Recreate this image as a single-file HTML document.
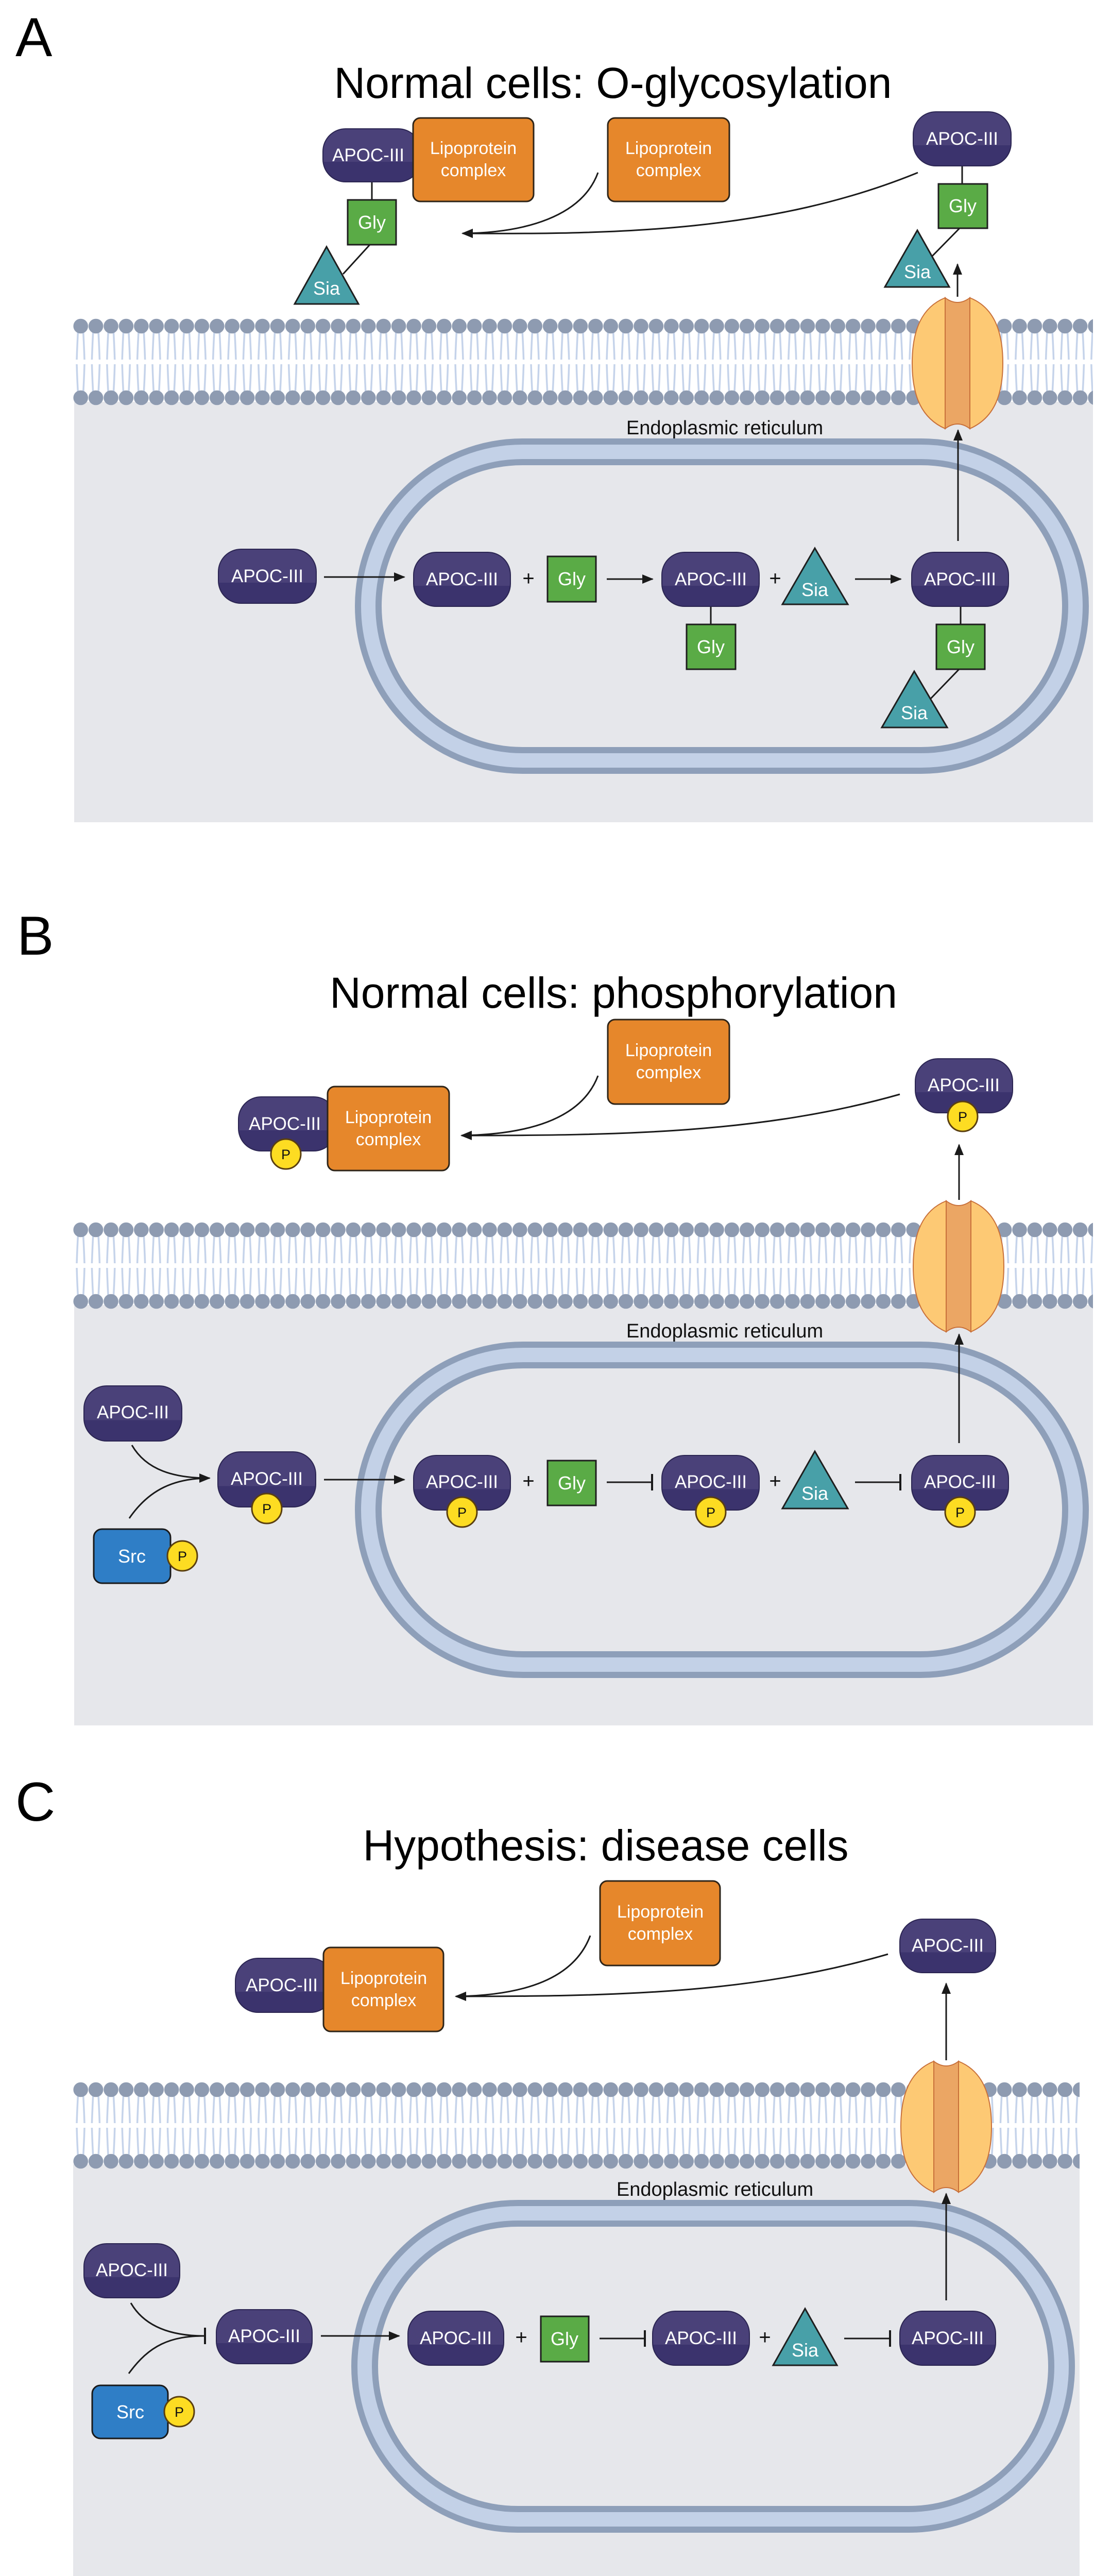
<!DOCTYPE html>
<html><head><meta charset="utf-8"><style>
html,body{margin:0;padding:0;background:#fff;width:2157px;height:5040px;overflow:hidden}
svg{display:block;position:absolute;left:0;top:0}
text{font-family:"Liberation Sans",sans-serif}
.p{fill:url(#pg);stroke:#2b2552;stroke-width:2}
.pt{fill:#fff;font-size:35px;text-anchor:middle}
.g{fill:#5aab46;stroke:#1e1e1e;stroke-width:3}
.gt{fill:#fff;font-size:36px;text-anchor:middle}
.s{fill:#48a0a8;stroke:#1e1e1e;stroke-width:3;stroke-linejoin:miter}
.l{fill:#e6872b;stroke:#2e2418;stroke-width:3}
.lt{fill:#fff;font-size:34px;text-anchor:middle}
.ph{fill:#fddc22;stroke:#5a3f10;stroke-width:3}
.pht{fill:#111;font-size:27px;text-anchor:middle}
.src{fill:#2f7ec6;stroke:#1a1a1a;stroke-width:3}
.a{stroke:#1a1a1a;stroke-width:3;fill:none;marker-end:url(#ah)}
.i{stroke:#1a1a1a;stroke-width:3;fill:none;marker-end:url(#ib)}
.ln{stroke:#1a1a1a;stroke-width:3;fill:none}
.ttl{fill:#000;font-size:84px;text-anchor:middle}
.lbl{fill:#000;font-size:107px}
.er{fill:#111;font-size:38px;text-anchor:middle}
.pl{fill:#111;font-size:40px;text-anchor:middle}
</style></head><body>
<svg width="2157" height="5040" viewBox="0 0 2157 5040" xmlns="http://www.w3.org/2000/svg">
<defs>
<linearGradient id="pg" x1="0" y1="0" x2="0" y2="1">
<stop offset="0" stop-color="#4a4179"/><stop offset="0.62" stop-color="#4a4179"/><stop offset="0.62" stop-color="#3b336d"/><stop offset="1" stop-color="#3b336d"/>
</linearGradient>
<marker id="ah" markerUnits="userSpaceOnUse" markerWidth="22" markerHeight="20" refX="20" refY="10" orient="auto"><path d="M0,1 L22,10 L0,19 Z" fill="#1a1a1a"/></marker>
<marker id="ib" markerUnits="userSpaceOnUse" markerWidth="6" markerHeight="32" refX="3" refY="16" orient="auto"><rect x="0" y="0" width="4" height="32" fill="#1a1a1a"/></marker>
<pattern id="mem" patternUnits="userSpaceOnUse" x="142" y="0" width="29.4" height="175">
<path d="M10,16 Q8,50 7,81 M19,16 Q21,50 22,81 M7,90 Q8,125 10,155 M22,90 Q21,125 19,155" stroke="#c5d3ea" stroke-width="3.5" fill="none"/>
<circle cx="14.7" cy="16" r="14.3" fill="#8e9bb1"/>
<circle cx="14.7" cy="155" r="14.3" fill="#8e9bb1"/>
</pattern>
<g id="chan">
<path d="M1835,578 C1790,596 1771,640 1771,705 C1771,770 1790,812 1835,832 Z" fill="#fdc974" stroke="#c8703a" stroke-width="2"/>
<path d="M1883,578 C1928,596 1947,640 1947,705 C1947,770 1928,812 1883,832 Z" fill="#fdc974" stroke="#c8703a" stroke-width="2"/>
<path d="M1835,578 Q1859,596 1883,578 L1883,832 Q1859,814 1835,832 Z" fill="#eba664" stroke="#c8703a" stroke-width="2"/>
</g>
</defs>

<!-- ================= PANEL A ================= -->
<text class="lbl" x="30" y="109">A</text>
<text class="ttl" x="1190" y="190">Normal cells: O-glycosylation</text>
<rect x="144" y="780" width="1978" height="816" fill="#e6e7eb"/>
<g transform="translate(0,617)"><rect x="142" y="0" width="1980" height="175" fill="url(#mem)"/></g>
<use href="#chan"/>
<rect x="715" y="877" width="1373" height="599" rx="299.5" fill="none" stroke="#8e9fb9" stroke-width="52"/>
<rect x="715" y="877" width="1373" height="599" rx="299.5" fill="none" stroke="#c3d1e7" stroke-width="28"/>
<text class="er" x="1407" y="843">Endoplasmic reticulum</text>

<line class="ln" x1="722" y1="353" x2="722" y2="388"/>
<line class="ln" x1="718" y1="475" x2="666" y2="532"/>
<rect class="p" x="627" y="250" width="190" height="103" rx="44"/><text class="pt" x="715" y="313">APOC-III</text>
<rect class="l" x="802" y="229" width="234" height="162" rx="14"/><text class="lt" x="919" y="299">Lipoprotein</text><text class="lt" x="919" y="342">complex</text>
<rect class="g" x="675" y="388" width="94" height="87"/><text class="gt" x="722" y="444">Gly</text>
<path class="s" d="M634,479 L696,590 L572,590 Z"/><text class="gt" x="634" y="572">Sia</text>
<rect class="l" x="1180" y="229" width="236" height="162" rx="14"/><text class="lt" x="1298" y="299">Lipoprotein</text><text class="lt" x="1298" y="342">complex</text>
<path class="a" d="M1161,335 C1130,420 1020,452 898,453"/>
<path class="a" d="M1782,335 C1500,450 1200,455 898,453"/>
<line class="ln" x1="1868" y1="322" x2="1868" y2="357"/>
<line class="ln" x1="1863" y1="443" x2="1810" y2="497"/>
<rect class="p" x="1773" y="217" width="190" height="105" rx="44"/><text class="pt" x="1868" y="281">APOC-III</text>
<rect class="g" x="1822" y="357" width="95" height="86"/><text class="gt" x="1869" y="412">Gly</text>
<path class="s" d="M1781,447 L1843,557 L1718,557 Z"/><text class="gt" x="1781" y="540">Sia</text>
<path class="a" d="M1859,576 L1859,513"/>
<rect class="p" x="424" y="1066" width="190" height="105" rx="44"/><text class="pt" x="519" y="1130">APOC-III</text>
<path class="a" d="M629,1120 L785,1120"/>
<rect class="p" x="803" y="1072" width="188" height="105" rx="44"/><text class="pt" x="897" y="1136">APOC-III</text>
<text class="pl" x="1026" y="1136">+</text>
<rect class="g" x="1063" y="1080" width="94" height="88"/><text class="gt" x="1110" y="1136">Gly</text>
<path class="a" d="M1178,1124 L1267,1124"/>
<line class="ln" x1="1380" y1="1177" x2="1380" y2="1212"/>
<rect class="p" x="1285" y="1072" width="189" height="105" rx="44"/><text class="pt" x="1380" y="1136">APOC-III</text>
<rect class="g" x="1333" y="1212" width="95" height="87"/><text class="gt" x="1380" y="1268">Gly</text>
<text class="pl" x="1505" y="1136">+</text>
<path class="s" d="M1582,1064 L1646,1173 L1519,1173 Z"/><text class="gt" x="1582" y="1157">Sia</text>
<path class="a" d="M1660,1124 L1749,1124"/>
<line class="ln" x1="1865" y1="1177" x2="1865" y2="1212"/>
<line class="ln" x1="1862" y1="1299" x2="1806" y2="1357"/>
<rect class="p" x="1770" y="1072" width="188" height="105" rx="44"/><text class="pt" x="1864" y="1136">APOC-III</text>
<rect class="g" x="1818" y="1212" width="94" height="87"/><text class="gt" x="1865" y="1268">Gly</text>
<path class="s" d="M1775,1303 L1839,1412 L1712,1412 Z"/><text class="gt" x="1775" y="1396">Sia</text>
<path class="a" d="M1860,1050 L1860,835"/>

<!-- ================= PANEL B ================= -->
<text class="lbl" x="33" y="1853">B</text>
<text class="ttl" x="1191" y="1956">Normal cells: phosphorylation</text>
<rect x="144" y="2533" width="1978" height="816" fill="#e6e7eb"/>
<g transform="translate(0,2371)"><rect x="142" y="0" width="1980" height="175" fill="url(#mem)"/></g>
<use href="#chan" transform="translate(2,1753)"/>
<rect x="715" y="2630" width="1373" height="601" rx="300.5" fill="none" stroke="#8e9fb9" stroke-width="52"/>
<rect x="715" y="2630" width="1373" height="601" rx="300.5" fill="none" stroke="#c3d1e7" stroke-width="28"/>
<text class="er" x="1407" y="2596">Endoplasmic reticulum</text>

<rect class="l" x="1180" y="1979" width="236" height="164" rx="14"/><text class="lt" x="1298" y="2050">Lipoprotein</text><text class="lt" x="1298" y="2093">complex</text>
<rect class="p" x="463" y="2129" width="190" height="105" rx="44"/><text class="pt" x="553" y="2193">APOC-III</text>
<rect class="l" x="636" y="2109" width="236" height="163" rx="14"/><text class="lt" x="754" y="2180">Lipoprotein</text><text class="lt" x="754" y="2223">complex</text>
<circle class="ph" cx="555" cy="2240" r="29"/><text class="pht" x="555" y="2250">P</text>
<path class="a" d="M1161,2088 C1130,2170 1030,2202 896,2204"/>
<path class="a" d="M1747,2124 C1480,2200 1200,2204 896,2204"/>
<rect class="p" x="1777" y="2055" width="189" height="105" rx="44"/><text class="pt" x="1871" y="2118">APOC-III</text>
<circle class="ph" cx="1869" cy="2167" r="29"/><text class="pht" x="1869" y="2177">P</text>
<path class="a" d="M1862,2329 L1862,2222"/>

<rect class="p" x="163" y="2690" width="190" height="107" rx="44"/><text class="pt" x="258" y="2753">APOC-III</text>
<path class="ln" d="M256,2805 C285,2855 340,2868 400,2869"/>
<path class="a" d="M251,2947 C290,2890 340,2869 407,2869"/>
<rect class="src" x="182" y="2968" width="149" height="105" rx="16"/><text class="gt" x="256" y="3033">Src</text>
<circle class="ph" cx="354" cy="3020" r="29"/><text class="pht" x="354" y="3030">P</text>
<rect class="p" x="423" y="2818" width="190" height="107" rx="44"/><text class="pt" x="518" y="2882">APOC-III</text>
<circle class="ph" cx="518" cy="2928" r="29"/><text class="pht" x="518" y="2938">P</text>
<path class="a" d="M629,2872 L785,2872"/>
<rect class="p" x="803" y="2825" width="188" height="106" rx="44"/><text class="pt" x="897" y="2888">APOC-III</text>
<circle class="ph" cx="897" cy="2935" r="29"/><text class="pht" x="897" y="2945">P</text>
<text class="pl" x="1026" y="2888">+</text>
<rect class="g" x="1063" y="2835" width="94" height="87"/><text class="gt" x="1110" y="2891">Gly</text>
<path class="i" d="M1178,2877 L1267,2877"/>
<rect class="p" x="1285" y="2825" width="189" height="106" rx="44"/><text class="pt" x="1380" y="2888">APOC-III</text>
<circle class="ph" cx="1380" cy="2935" r="29"/><text class="pht" x="1380" y="2945">P</text>
<text class="pl" x="1505" y="2888">+</text>
<path class="s" d="M1582,2817 L1646,2928 L1519,2928 Z"/><text class="gt" x="1582" y="2911">Sia</text>
<path class="i" d="M1660,2877 L1749,2877"/>
<rect class="p" x="1770" y="2825" width="188" height="106" rx="44"/><text class="pt" x="1864" y="2888">APOC-III</text>
<circle class="ph" cx="1864" cy="2935" r="29"/><text class="pht" x="1864" y="2945">P</text>
<path class="a" d="M1862,2801 L1862,2590"/>

<!-- ================= PANEL C ================= -->
<text class="lbl" x="30" y="3534">C</text>
<text class="ttl" x="1176" y="3611">Hypothesis: disease cells</text>
<rect x="142" y="4201" width="1954" height="804" fill="#e6e7eb"/>
<g transform="translate(0,4040)"><rect x="142" y="0" width="1954" height="175" fill="url(#mem)"/></g>
<use href="#chan" transform="translate(-22,3423)"/>
<rect x="708" y="4296" width="1353" height="594" rx="297" fill="none" stroke="#8e9fb9" stroke-width="52"/>
<rect x="708" y="4296" width="1353" height="594" rx="297" fill="none" stroke="#c3d1e7" stroke-width="28"/>
<text class="er" x="1388" y="4262">Endoplasmic reticulum</text>

<rect class="l" x="1165" y="3651" width="233" height="164" rx="14"/><text class="lt" x="1282" y="3722">Lipoprotein</text><text class="lt" x="1282" y="3765">complex</text>
<rect class="p" x="457" y="3801" width="190" height="105" rx="44"/><text class="pt" x="547" y="3865">APOC-III</text>
<rect class="l" x="628" y="3780" width="233" height="163" rx="14"/><text class="lt" x="745" y="3851">Lipoprotein</text><text class="lt" x="745" y="3894">complex</text>
<path class="a" d="M1146,3757 C1115,3840 1020,3873 885,3875"/>
<path class="a" d="M1724,3793 C1460,3870 1190,3875 885,3875"/>
<rect class="p" x="1747" y="3725" width="186" height="104" rx="44"/><text class="pt" x="1840" y="3788">APOC-III</text>
<path class="a" d="M1837,3999 L1837,3850"/>

<rect class="p" x="163" y="4355" width="186" height="105" rx="44"/><text class="pt" x="256" y="4418">APOC-III</text>
<path class="ln" d="M254,4470 C280,4515 330,4534 397,4534"/>
<path class="i" d="M250,4607 C290,4552 330,4534 399,4534"/>
<rect class="src" x="179" y="4630" width="147" height="103" rx="16"/><text class="gt" x="253" y="4694">Src</text>
<circle class="ph" cx="348" cy="4681" r="29"/><text class="pht" x="348" y="4691">P</text>
<rect class="p" x="420" y="4483" width="186" height="105" rx="44"/><text class="pt" x="513" y="4546">APOC-III</text>
<path class="a" d="M623,4534 L775,4534"/>
<rect class="p" x="792" y="4486" width="186" height="105" rx="44"/><text class="pt" x="885" y="4550">APOC-III</text>
<text class="pl" x="1012" y="4550">+</text>
<rect class="g" x="1050" y="4496" width="93" height="88"/><text class="gt" x="1096" y="4552">Gly</text>
<path class="i" d="M1164,4539 L1253,4539"/>
<rect class="p" x="1267" y="4486" width="188" height="105" rx="44"/><text class="pt" x="1361" y="4550">APOC-III</text>
<text class="pl" x="1485" y="4550">+</text>
<path class="s" d="M1563,4481 L1625,4591 L1501,4591 Z"/><text class="gt" x="1563" y="4574">Sia</text>
<path class="i" d="M1639,4539 L1729,4539"/>
<rect class="p" x="1747" y="4486" width="186" height="105" rx="44"/><text class="pt" x="1840" y="4550">APOC-III</text>
<path class="a" d="M1837,4465 L1837,4258"/>
</svg>
</body></html>
